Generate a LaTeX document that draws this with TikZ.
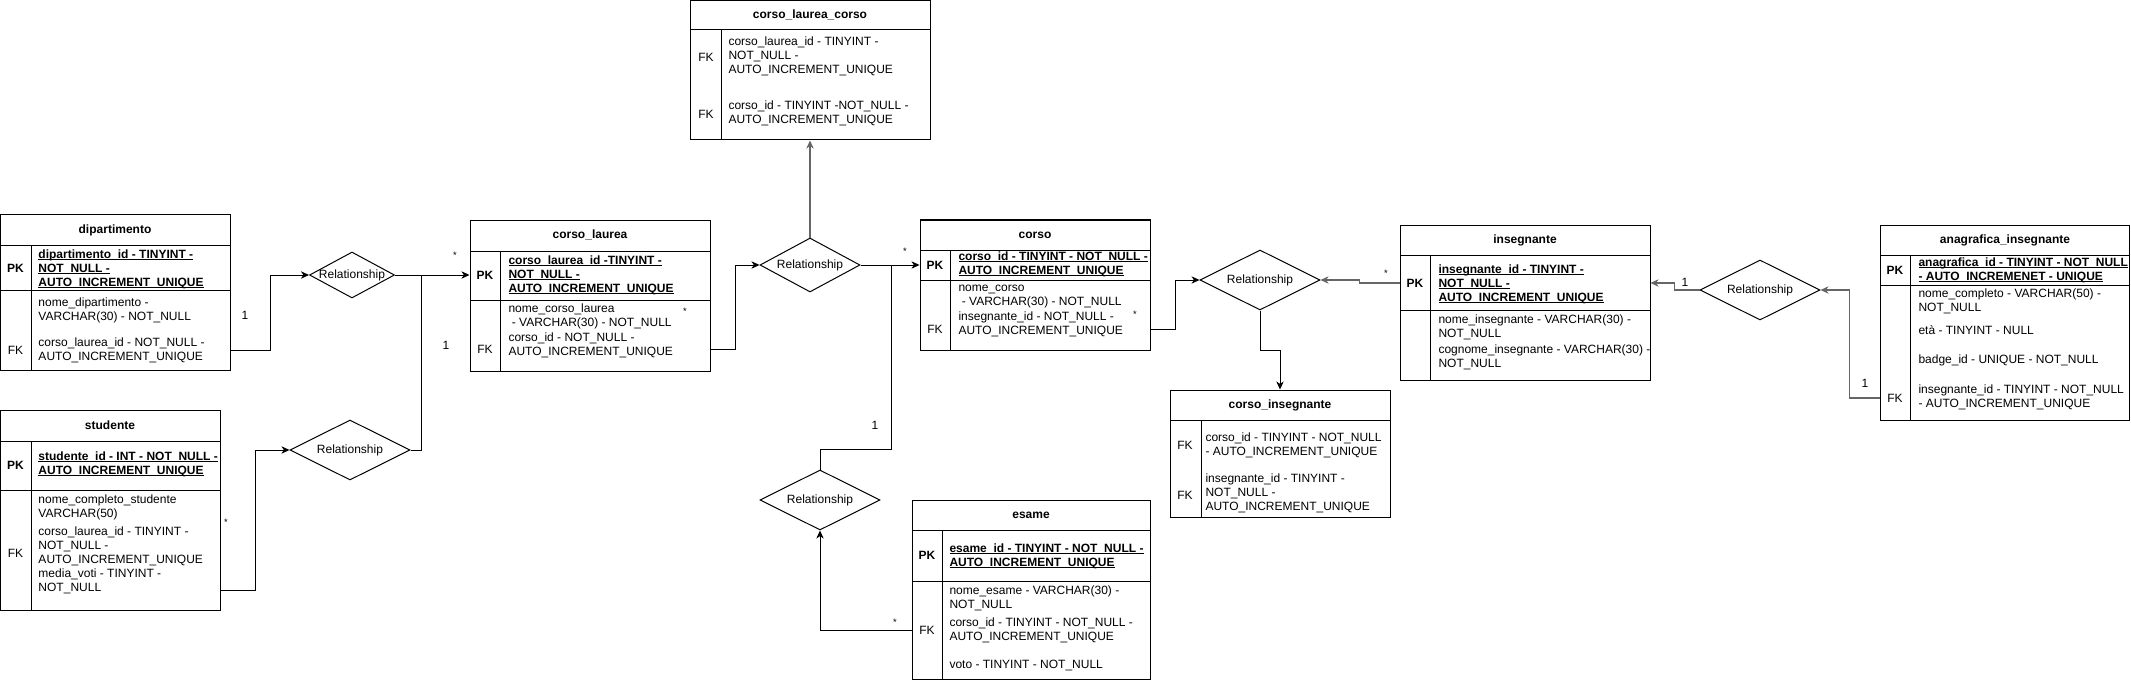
\documentclass[tikz,border=0pt]{standalone}
\usepackage{fontspec}
\setmainfont{Liberation Sans}
\usetikzlibrary{shapes.geometric,arrows.meta,fit}
\newcommand\erfont{\fontsize{9}{10.5}\selectfont}
\newcommand\erpk[1]{\setbox0\hbox{\textbf{#1}}\rlap{\rule[-1.5pt]{\wd0}{0.6pt}}\box0}
\def\pxu{0.75pt}
\begin{document}
\begin{tikzpicture}[x=0.75pt,y=-0.75pt,line width=0.75pt,
  tbl/.style={draw,inner sep=0pt},
  hdr/.style={inner sep=0pt,font=\erfont\bfseries},
  keyb/.style={inner sep=0pt,font=\erfont\bfseries},
  keyr/.style={inner sep=0pt,font=\erfont},
  txt/.style={inner sep=0pt,align=left,anchor=west,font=\erfont},
  rel/.style={diamond,draw,inner sep=0pt,label={[inner sep=0pt,font=\erfont]center:Relationship}},
  card/.style={inner sep=0pt,font=\erfont},
  star/.style={inner sep=0pt,font=\fontsize{7}{8}\selectfont},
  conn/.style={-{Stealth[length=6pt,width=5.5pt,inset=1.8pt]}},
  connG/.style={conn,draw=black!60,line width=0.9pt},
  lineG/.style={draw=black!60}]
\useasboundingbox (0,0) rectangle (2131,681);
\fill[white] (0,0) rectangle (2131,681);

% ---------- dipartimento
\node[tbl,fit={(0.5,215)(230,370)}] (dip) {};
\draw (0.5,245) -- (230,245);
\draw (0.5,290) -- (230,290);
\draw (31,245) -- (31,370);
\node[hdr] (diph) at (115,230) {dipartimento};
\node[keyb] (dippk) at (15.5,268) {PK};
\node[txt] (dipa) at (38,269) {\erpk{dipartimento\_id - TINYINT -}\\\erpk{NOT\_NULL -}\\\erpk{AUTO\_INCREMENT\_UNIQUE}};
\node[txt] (dipb) at (38,310) {nome\_dipartimento -\\VARCHAR(30) - NOT\_NULL};
\node[txt] (dipc) at (38,350) {corso\_laurea\_id - NOT\_NULL -\\AUTO\_INCREMENT\_UNIQUE};
\node[keyr] (dipfk) at (15.5,350) {FK};

% ---------- studente
\node[tbl,fit={(0.5,410)(220,610)}] (stu) {};
\draw (0.5,441) -- (220,441);
\draw (0.5,490) -- (220,490);
\draw (31,441) -- (31,610);
\node[hdr] (stuh) at (110,425) {studente};
\node[keyb] (stupk) at (15.5,465) {PK};
\node[txt] (stua) at (38,464) {\erpk{studente\_id - INT - NOT\_NULL -}\\\erpk{AUTO\_INCREMENT\_UNIQUE}};
\node[txt] (stub) at (38,507) {nome\_completo\_studente\\VARCHAR(50)};
\node[txt] (stuc) at (38,546) {corso\_laurea\_id - TINYINT -\\NOT\_NULL -\\AUTO\_INCREMENT\_UNIQUE};
\node[txt] (stud) at (38,581) {media\_voti - TINYINT -\\NOT\_NULL};
\node[keyr] (stufk) at (15.5,553) {FK};
\coordinate (stuout) at (220,590);

% ---------- corso_laurea
\node[tbl,fit={(470,220)(710,371)}] (cl) {};
\draw (470,251) -- (710,251);
\draw (470,300) -- (710,300);
\draw (500,251) -- (500,371);
\node[hdr] (clh) at (590,235) {corso\_laurea};
\node[keyb] (clpk) at (485,275) {PK};
\node[txt] (cla) at (508,275) {\erpk{corso\_laurea\_id -TINYINT -}\\\erpk{NOT\_NULL -}\\\erpk{AUTO\_INCREMENT\_UNIQUE}};
\node[txt] (clb) at (508,316) {nome\_corso\_laurea\\\ - VARCHAR(30) - NOT\_NULL};
\node[txt] (clc2) at (508,345) {corso\_id - NOT\_NULL -\\AUTO\_INCREMENT\_UNIQUE};
\node[keyr] (clfk) at (485,349) {FK};

% ---------- corso_laurea_corso
\node[tbl,fit={(690,0.5)(930,140)}] (clc) {};
\draw (690,30) -- (930,30);
\draw (721,30) -- (721,140);
\node[hdr] (clch) at (810,15) {corso\_laurea\_corso};
\node[keyr] (clcfk1) at (706,57) {FK};
\node[txt] (clca) at (728,56) {corso\_laurea\_id - TINYINT -\\NOT\_NULL -\\AUTO\_INCREMENT\_UNIQUE};
\node[keyr] (clcfk2) at (706,114) {FK};
\node[txt] (clcb) at (728,113) {corso\_id - TINYINT -NOT\_NULL -\\AUTO\_INCREMENT\_UNIQUE};

% ---------- corso
\node[tbl,fit={(920,220)(1150,350)}] (co) {};
\draw (920,250) -- (1150,250);
\draw (920,280) -- (1150,280);
\draw (950,250) -- (950,350);
\node[hdr] (coh) at (1035,235) {corso};
\node[keyb] (copk) at (935,265) {PK};
\node[txt] (coa) at (958,264) {\erpk{corso\_id - TINYINT - NOT\_NULL -}\\\erpk{AUTO\_INCREMENT\_UNIQUE}};
\node[txt] (cob) at (958,297) {nome\_corso\\\ - VARCHAR(30) - NOT\_NULL};
\node[txt] (coc) at (958,324) {insegnante\_id - NOT\_NULL -\\AUTO\_INCREMENT\_UNIQUE};
\node[keyr] (cofk) at (935,329) {FK};

% ---------- esame
\node[tbl,fit={(912,500)(1150,679.5)}] (es) {};
\draw (912,530) -- (1150,530);
\draw (912,581) -- (1150,581);
\draw (942,530) -- (942,679.5);
\node[hdr] (esh) at (1031,515) {esame};
\node[keyb] (espk) at (927,555) {PK};
\node[txt] (esa) at (949,556) {\erpk{esame\_id - TINYINT - NOT\_NULL -}\\\erpk{AUTO\_INCREMENT\_UNIQUE}};
\node[txt] (esb) at (949,598) {nome\_esame - VARCHAR(30) -\\NOT\_NULL};
\node[txt] (esc) at (949,630) {corso\_id - TINYINT - NOT\_NULL -\\AUTO\_INCREMENT\_UNIQUE};
\node[txt] (esd) at (949,665) {voto - TINYINT - NOT\_NULL};
\node[keyr] (esfk) at (927,630) {FK};

% ---------- insegnante
\node[tbl,fit={(1400,225)(1650,380)}] (ins) {};
\draw (1400,255) -- (1650,255);
\draw (1400,310) -- (1650,310);
\draw (1430,255) -- (1430,380);
\node[hdr] (insh) at (1525,240) {insegnante};
\node[keyb] (inspk) at (1415,283) {PK};
\node[txt] (insa) at (1438,284) {\erpk{insegnante\_id - TINYINT -}\\\erpk{NOT\_NULL -}\\\erpk{AUTO\_INCREMENT\_UNIQUE}};
\node[txt] (insb) at (1438,327) {nome\_insegnante - VARCHAR(30) -\\NOT\_NULL};
\node[txt] (insc) at (1438,357) {cognome\_insegnante - VARCHAR(30) -\\NOT\_NULL};

% ---------- corso_insegnante
\node[tbl,fit={(1170,390)(1390,517)}] (ci) {};
\draw (1170,420) -- (1390,420);
\draw (1201,420) -- (1201,517);
\node[hdr] (cih) at (1280,405) {corso\_insegnante};
\node[keyr] (cifk1) at (1185,445) {FK};
\node[txt] (cia) at (1205,445) {corso\_id - TINYINT - NOT\_NULL\\- AUTO\_INCREMENT\_UNIQUE};
\node[keyr] (cifk2) at (1185,495) {FK};
\node[txt] (cib) at (1205,493) {insegnante\_id - TINYINT -\\NOT\_NULL -\\AUTO\_INCREMENT\_UNIQUE};

% ---------- anagrafica_insegnante
\node[tbl,fit={(1880,225)(2129.5,420)}] (ana) {};
\draw (1880,255) -- (2129.5,255);
\draw (1880,285) -- (2129.5,285);
\draw (1910,255) -- (1910,420);
\node[hdr] (anah) at (2005,240) {anagrafica\_insegnante};
\node[keyb] (anapk) at (1895,270) {PK};
\node[txt] (anaa) at (1918,270) {\erpk{anagrafica\_id - TINYINT - NOT\_NULL}\\\erpk{- AUTO\_INCREMENET - UNIQUE}};
\node[txt] (anab) at (1918,301) {nome\_completo - VARCHAR(50) -\\NOT\_NULL};
\node[txt] (anac) at (1918,330) {età - TINYINT - NULL};
\node[txt] (anad) at (1918,360) {badge\_id - UNIQUE - NOT\_NULL};
\node[txt] (anae) at (1918,397) {insegnante\_id - TINYINT - NOT\_NULL\\- AUTO\_INCREMENT\_UNIQUE};
\node[keyr] (anafk) at (1895,398) {FK};

% ---------- relationships
\node[rel,minimum width=85*\pxu,minimum height=46*\pxu] (r1) at (352,275) {};
\node[rel,minimum width=120*\pxu,minimum height=60*\pxu] (r2) at (350,450) {};
\node[rel,minimum width=100*\pxu,minimum height=54*\pxu] (r3) at (810,265) {};
\node[rel,minimum width=120*\pxu,minimum height=60*\pxu] (r4) at (1260,280) {};
\node[rel,minimum width=120*\pxu,minimum height=60*\pxu] (r5) at (1760,290) {};
\node[rel,minimum width=120*\pxu,minimum height=60*\pxu] (r6) at (820,500) {};

% ---------- connectors
\draw[conn] (dip.east |- dipfk) -- ++(40,0) |- (r1.west);
\draw[conn] (r1.east) -- (cl.west |- r1.east);
\draw[conn] (stuout) -- ++(35,0) |- (r2.west);
\coordinate (j1) at (421,275);
\draw (r2.east) -| (j1);
\draw[conn] (cl.east |- clfk) -- ++(25,0) |- (r3.west);
\draw[connG] (r3.north) -- (r3.north |- clc.south);
\draw[conn] (r3.east) -- (co.west |- r3.east);
\draw[conn] (es.west |- esfk) -| (r6.south);
\coordinate (j2) at (891,265);
\draw (r6.north) -- ++(0,-20) -| (j2);
\draw[conn] (co.east |- cofk) -- ++(25,0) |- (r4.west);
\draw[conn] (r4.south) -- ++(0,40) -| (ci.north);
\draw[connG] (ins.west |- inspk) -- ++(-40,0) |- (r4.east);
\draw[connG] (ana.west |- anafk) -- ++(-30,0) |- (r5.east);
\draw[connG] (r5.west) -- ++(-25,0) |- (ins.east |- inspk);

% ---------- cardinalities
\node[card] (k1) at (245,315) {1};
\node[star] (k2) at (455,255) {*};
\node[card] (k3) at (446,345) {1};
\node[star] (k4) at (226,522) {*};
\node[star] (k5) at (685,311) {*};
\node[star] (k6) at (905,251) {*};
\node[card] (k7) at (875,425) {1};
\node[star] (k8) at (895,622) {*};
\node[star] (k9) at (1135,314) {*};
\node[star] (k10) at (1386,273) {*};
\node[card] (k11) at (1685,282) {1};
\node[card] (k12) at (1865,383) {1};
\end{tikzpicture}
\end{document}
